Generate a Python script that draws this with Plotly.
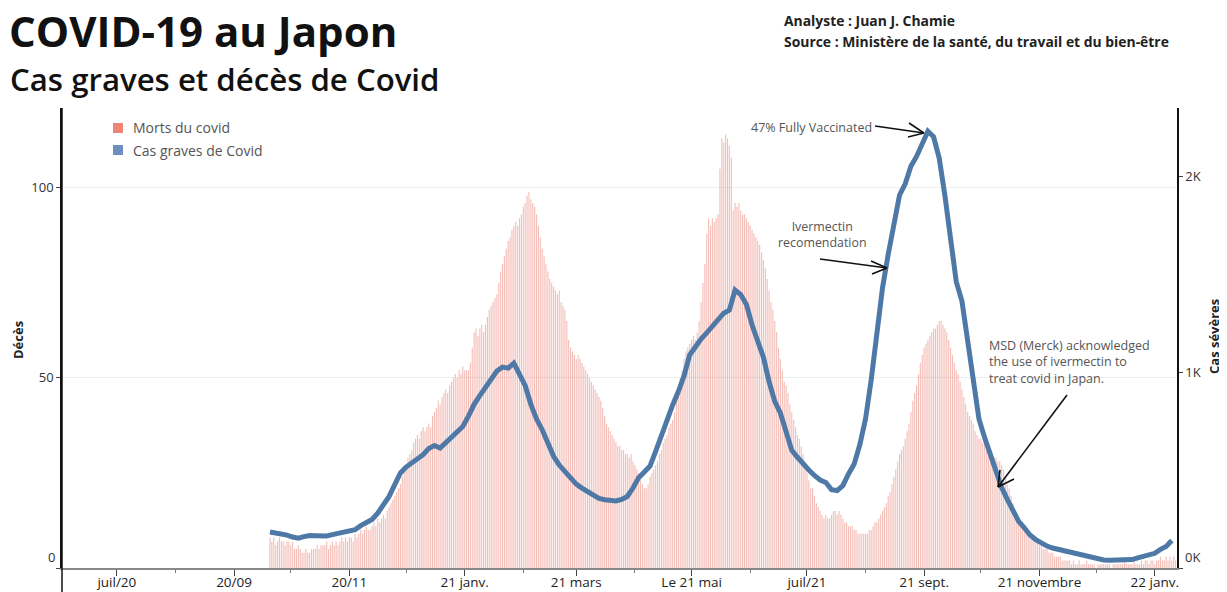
import plotly.graph_objects as go
import pandas as pd

# ---------------- data ----------------
deaths_start = "2020-09-20"   # daily deaths, one value per day
deaths = [
    8, 7, 8, 6, 7, 8, 7,
    7, 6, 7, 7, 6, 7, 5,
    5, 6, 5, 4, 4, 5, 4,
    4, 5, 5, 5, 6, 5, 6,
    6, 6, 7, 5, 6, 7, 6,
    7, 6, 7, 8, 7, 8, 7,
    8, 8, 7, 9, 8, 9, 10,
    9, 10, 11, 10, 10, 11, 12,
    11, 13, 12, 13, 14, 13, 15,
    16, 17, 18, 19, 20, 21, 22,
    24, 26, 27, 29, 30, 31, 33,
    34, 35, 34, 36, 37, 36, 37,
    38, 37, 40, 41, 42, 44, 43,
    45, 46, 47, 46, 48, 49, 50,
    51, 50, 52, 51, 53, 52, 52,
    52, 54, 58, 62, 63, 61, 63,
    64, 62, 64, 66, 68, 69, 70,
    71, 72, 75, 78, 80, 82, 84,
    86, 87, 89, 90, 91, 90, 92,
    93, 95, 96, 98, 99, 97, 96,
    95, 93, 90, 87, 84, 82, 80,
    78, 76, 75, 74, 73, 72, 73,
    70, 69, 68, 65, 60, 58, 57,
    56, 55, 56, 55, 54, 53, 52,
    51, 50, 49, 48, 47, 46, 45,
    44, 42, 40, 38, 37, 36, 35,
    34, 33, 32, 32, 31, 31, 30,
    30, 29, 30, 28, 27, 26, 25,
    23, 22, 21, 21, 22, 24, 25,
    26, 27, 28, 30, 31, 33, 34,
    35, 37, 38, 39, 41, 44, 48,
    50, 52, 55, 57, 58, 59, 60,
    61, 60, 62, 65, 70, 75, 80,
    88, 92, 90, 92, 91, 92, 93,
    105, 113, 112, 114, 113, 111, 108,
    94, 96, 95, 96, 94, 93, 93,
    92, 91, 90, 89, 88, 87, 86,
    85, 83, 81, 79, 76, 73, 70,
    68, 65, 62, 58, 55, 52, 49,
    48, 46, 43, 41, 39, 37, 35,
    34, 32, 30, 27, 25, 23, 21,
    21, 19, 17, 16, 15, 14, 13,
    14, 13, 13, 14, 15, 15, 14,
    15, 14, 13, 12, 12, 11, 11,
    11, 10, 10, 9, 9, 9, 9,
    9, 9, 10, 10, 11, 12, 12,
    13, 14, 15, 16, 17, 19, 20,
    22, 24, 26, 28, 30, 31, 32,
    34, 36, 38, 41, 44, 46, 48,
    51, 54, 56, 58, 59, 60, 61,
    62, 63, 63, 64, 65, 65, 64,
    63, 62, 60, 58, 56, 54, 52,
    51, 49, 47, 45, 43, 41, 40,
    39, 38, 36, 35, 34, 34, 33,
    33, 32, 31, 30, 30, 29, 29,
    28, 28, 27, 26, 24, 22, 21,
    19, 17, 15, 14, 13, 12, 11,
    10, 10, 9, 9, 8, 8, 7,
    7, 6, 6, 5, 5, 5, 4,
    4, 4, 3, 3, 3, 3, 2,
    2, 2, 2, 2, 1, 2, 1,
    1, 2, 1, 1, 1, 2, 1,
    1, 1, 1, 0, 1, 1, 1,
    1, 1, 1, 1, 0, 1, 1,
    1, 1, 1, 1, 2, 1, 1,
    1, 1, 2, 1, 1, 1, 2,
    1, 2, 2, 1, 2, 2, 1,
    2, 2, 3, 2, 2, 3, 2,
    3, 2, 3, 2,
]

severe_start = "2020-09-20"   # severe cases, one reading every 3 days
severe_step = "3D"
severe = [
    184, 180, 175, 168, 158, 152, 160, 166, 165, 163,
    163, 170, 176, 180, 183, 195, 216, 232, 248, 280,
    318, 365, 425, 485, 515, 535, 555, 578, 610, 625,
    612, 640, 662, 690, 722, 775, 835, 880, 925, 968,
    1005, 1025, 1020, 1045, 990, 930, 835, 760, 705, 635,
    570, 525, 495, 460, 428, 408, 390, 370, 355, 348,
    344, 342, 350, 365, 408, 460, 490, 520, 595, 680,
    760, 832, 900, 980, 1087, 1130, 1168, 1200, 1235, 1265,
    1300, 1316, 1418, 1395, 1345, 1240, 1165, 1075, 950, 850,
    790, 690, 600, 565, 530, 500, 472, 449, 436, 400,
    395, 420, 480, 530, 630, 760, 960, 1200, 1430, 1600,
    1760, 1903, 1960, 2050, 2100, 2160, 2228, 2200, 2090, 1900,
    1660, 1460, 1362, 1158, 960, 760, 665, 580, 480, 410,
    350, 295, 238, 205, 168, 145, 128, 112, 102, 95,
    89, 82, 74, 65, 58, 52, 45, 41, 40, 40,
    40, 41, 43, 52, 60, 68, 75, 95, 110, 140,
]

tick_dates = ["2020-07-01", "2020-09-01", "2020-11-01", "2021-01-01", "2021-03-01",
              "2021-05-01", "2021-07-01", "2021-09-01", "2021-11-01", "2022-01-01"]
tick_labels = ["juil/20", "20/09", "20/11", "21 janv.", "21 mars",
               "Le 21 mai", "juil/21", "21 sept.", "21 novembre", "22 janv."]

left_ticks = [0, 50, 100]
left_labels = ["", "50", "100"]
right_ticks = [0, 1000, 2000]
right_labels = ["", "1K", "2K"]

legend_names = ["Morts du covid", "Cas graves de Covid"]
legend_colors = ["#f08577", "#6b8fc0"]

# ---------------- figure ----------------
OFF = 8                      # page body margin
W, H = 1219, 584
ML, MR, MT, MB = 54, 50, 100, 24
PW, PH = W - ML - MR, H - MT - MB


def px(X):
    """window pixel x -> paper x"""
    return (X - OFF - ML) / PW


def py(Y):
    """window pixel y -> paper y"""
    return (H - MB - (Y - OFF)) / PH


d_dates = pd.date_range(deaths_start, periods=len(deaths), freq="D")
s_dates = pd.date_range(severe_start, periods=len(severe), freq=severe_step)

FONT = "Open Sans"
GRAY = "#555555"

fig = go.Figure()
fig.add_trace(go.Bar(x=d_dates, y=deaths, marker=dict(color="rgba(234,128,116,0.5)", line=dict(width=0)),
                     showlegend=False, hoverinfo="skip"))
fig.add_trace(go.Scatter(x=s_dates, y=severe, yaxis="y2", mode="lines",
                         line=dict(color="#4e79a7", width=5), showlegend=False, hoverinfo="skip"))


def txt(text, X, Y, size, color, xanchor="center", align="center", angle=0, weight=None):
    f = dict(family=FONT, size=size, color=color)
    if weight:
        f["weight"] = weight
    return dict(text=text, x=px(X), y=py(Y), xref="paper", yref="paper", xanchor=xanchor,
                yanchor="middle", showarrow=False, align=align, textangle=angle, font=f)


annotations = [
    txt("<b>COVID-19 au Japon</b>", 7, 30, 42, "#111111", xanchor="left"),
    txt("Cas graves et décès de Covid", 8, 79, 31.2, "#111111", xanchor="left", weight=600),
    txt("<b>Analyste : Juan J. Chamie</b>", 782, 20, 13.9, "#222222", xanchor="left"),
    txt("<b>Source : Ministère de la santé, du travail et du bien-être</b>", 782, 41, 13.9, "#222222",
        xanchor="left"),
    txt("<b>Décès</b>", 18, 340, 13, "#222222", angle=-90),
    txt("<b>Cas sévères</b>", 1214, 337, 13, "#222222", angle=-90),
    txt("0", 57, 557, 13, "#333333", xanchor="right"),
    txt("0K", 1183, 557, 13, "#333333", xanchor="left"),
    txt("47% Fully Vaccinated", 811, 127, 12.5, GRAY),
    txt("Ivermectin<br>recomendation", 822, 234, 12.4, GRAY),
    txt("MSD (Merck) acknowledged<br>the use of ivermectin to<br>treat covid in Japan.", 987, 362, 12.5,
        GRAY, xanchor="left", align="left"),
]

shapes = []
# manual legend
for i, (name, col) in enumerate(zip(legend_names, legend_colors)):
    yc = 128 + 22 * i
    shapes.append(dict(type="rect", xref="paper", yref="paper", x0=px(113), x1=px(123),
                       y0=py(yc + 5), y1=py(yc - 5), fillcolor=col, line=dict(width=0)))
    annotations.append(txt(name, 131, yc, 14, GRAY, xanchor="left"))

arrows = [
    ((875, 126), (924, 133), (909, 123), (908, 137)),
    ((820, 259), (887, 268), (871, 261), (872, 274)),
    ((1067, 395), (998, 487), (1000, 470), (1014, 479)),
]
for start, tip, h1, h2 in arrows:
    for a, b in ((start, tip), (h1, tip), (h2, tip)):
        shapes.append(dict(type="line", xref="paper", yref="paper",
                           x0=px(a[0]), y0=py(a[1]), x1=px(b[0]), y1=py(b[1]),
                           line=dict(color="#111111", width=1.6)))
# left axis line continuing under the x axis
shapes.append(dict(type="line", xref="paper", yref="paper", x0=0, x1=0, y0=py(600), y1=1,
                   line=dict(color="#111111", width=1.5)))

fig.update_layout(
    width=W, height=H,
    margin=dict(l=ML, r=MR, t=MT, b=MB, pad=0, autoexpand=False),
    paper_bgcolor="white", plot_bgcolor="white",
    font=dict(family=FONT, size=13, color="#333333"),
    bargap=0.4,
    showlegend=False,
    xaxis=dict(type="date", range=["2020-06-02", "2022-01-12 18:00"], automargin=False,
               tickmode="array", tickvals=tick_dates, ticktext=tick_labels,
               ticks="outside", ticklen=6, tickcolor="#444444", tickwidth=1,
               ticklabelstandoff=-5,
               showline=True, linecolor="#888888", linewidth=2, showgrid=False, zeroline=False,
               tickfont=dict(family=FONT, size=13.5, color="#222222"),
               minor=dict(dtick="M1", tick0="2020-06-01", ticks="outside", ticklen=3,
                          tickcolor="#777777", showgrid=False)),
    yaxis=dict(range=[0, 121], tickmode="array", tickvals=left_ticks, ticktext=left_labels,
               automargin=False, ticks="outside", ticklen=4, tickcolor="#444444",
               showline=True, linecolor="#111111", linewidth=1.5,
               showgrid=True, gridcolor="#eeeeee", gridwidth=1, zeroline=False,
               tickfont=dict(family=FONT, size=13, color="#333333")),
    yaxis2=dict(range=[0, 2347], overlaying="y", side="right", tickmode="array",
                tickvals=right_ticks, ticktext=right_labels, automargin=False,
                ticks="outside", ticklen=4, tickcolor="#444444",
                showline=True, linecolor="#111111", linewidth=1.5,
                showgrid=False, zeroline=False,
                tickfont=dict(family=FONT, size=13, color="#333333")),
    annotations=annotations,
    shapes=shapes,
)

fig.write_html("out.html")
